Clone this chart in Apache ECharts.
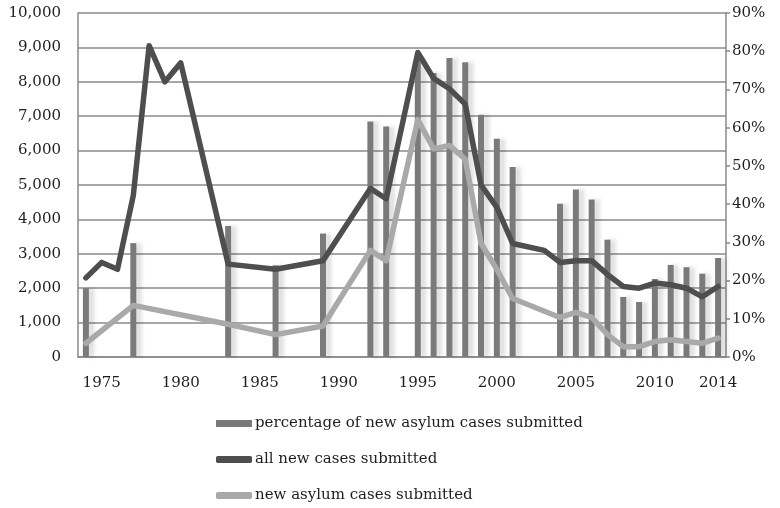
<!DOCTYPE html>
<html>
<head>
<meta charset="utf-8">
<script src="https://cdn.jsdelivr.net/npm/echarts@6/dist/echarts.min.js"></script>
<style>
  html, body { margin: 0; padding: 0; background: #fff; }
  #chart { width: 780px; height: 508px; }
</style>
</head>
<body>
<div id="chart"></div>
<script>
// years 1974 - 2014
const years = [];
for (let y = 1974; y <= 2014; y++) years.push(String(y));

// percentage of new asylum cases submitted (right axis, %)
const pctAsylum = [
  18.0, null, null, 29.8, null, null, null, null, null, 34.3,
  null, null, 24.0, null, null, 32.3, null, null, 61.6, 60.3,
  null, 78.0, 74.3, 78.2, 77.1, 63.4, 57.1, 49.7, null, null,
  40.1, 43.8, 41.2, 30.7, 15.7, 14.4, 20.4, 24.1, 23.5, 21.8,
  25.9
];

// all new cases submitted (left axis)
const allCases = [
  2300, 2750, 2550, 4700, 9050, 8000, 8550, null, null, 2700,
  null, null, 2550, null, null, 2800, null, null, 4900, 4600,
  null, 8850, 8100, 7800, 7350, 5000, 4350, 3300, null, 3100,
  2750, 2800, 2800, 2400, 2050, 2000, 2150, 2100, 2000, 1750,
  2050
];

// new asylum cases submitted (left axis)
const asylumCases = [
  400, null, null, 1500, null, null, null, null, null, 950,
  null, null, 650, null, null, 900, null, null, 3100, 2800,
  null, 6900, 6050, 6150, 5750, 3300, 2550, 1700, null, null,
  1150, 1300, 1150, 650, 300, 300, 450, 500, 450, 400,
  550
];

const names = [
  'percentage of new asylum cases submitted',
  'all new cases submitted',
  'new asylum cases submitted'
];

const font = 'DejaVu Serif';
const txt = '#1e1e1e';

const chart = echarts.init(document.getElementById('chart'));

const option = {
  animation: false,
  backgroundColor: '#fff',
  grid: { left: 78, right: 54, top: 13, bottom: 151 },
  legend: {
    orient: 'vertical',
    left: 211,
    top: 411,
    itemGap: 21,
    itemWidth: 36,
    itemHeight: 7,
    textStyle: { fontFamily: font, fontSize: 15, color: txt, padding: [0, 0, 0, -2] },
    data: [
      { name: names[0], icon: 'rect' },
      { name: names[1], icon: 'roundRect' },
      { name: names[2], icon: 'roundRect' }
    ]
  },
  xAxis: {
    type: 'category',
    data: years,
    boundaryGap: true,
    axisLine: { lineStyle: { color: '#8a8a8a', width: 1.5 } },
    axisTick: { show: false },
    axisLabel: {
      interval: (i, v) => Number(v) % 5 === 0 || v === '2014',
      fontFamily: font,
      fontSize: 15,
      color: txt,
      margin: 19
    }
  },
  yAxis: [
    {
      type: 'value',
      min: 0,
      max: 10000,
      interval: 1000,
      axisLine: { show: true, lineStyle: { color: '#8a8a8a', width: 1.5 } },
      axisTick: { show: false },
      splitLine: { lineStyle: { color: '#8a8a8a', width: 1.5 } },
      axisLabel: {
        fontFamily: font,
        fontSize: 15,
        color: txt,
        margin: 17,
        formatter: v => v.toLocaleString('en-US')
      }
    },
    {
      type: 'value',
      min: 0,
      max: 90,
      interval: 10,
      axisLine: { show: true, lineStyle: { color: '#8a8a8a', width: 1.5 } },
      axisTick: { show: true, inside: false, length: 4, lineStyle: { color: '#8a8a8a', width: 1.5 } },
      splitLine: { show: false },
      axisLabel: {
        fontFamily: font,
        fontSize: 15,
        color: txt,
        margin: 6,
        formatter: '{value}%'
      }
    }
  ],
  series: [
    {
      name: names[0],
      type: 'bar',
      yAxisIndex: 1,
      data: pctAsylum,
      barWidth: 6,
      itemStyle: {
        color: '#7a7a7a',
        shadowColor: 'rgba(0,0,0,0.14)',
        shadowBlur: 4,
        shadowOffsetX: 5
      }
    },
    {
      name: names[1],
      type: 'line',
      yAxisIndex: 0,
      data: allCases,
      connectNulls: true,
      showSymbol: false,
      itemStyle: { color: '#4e4e4e' },
      lineStyle: { color: '#4e4e4e', width: 5.5, cap: 'round', join: 'round' }
    },
    {
      name: names[2],
      type: 'line',
      yAxisIndex: 0,
      data: asylumCases,
      connectNulls: true,
      showSymbol: false,
      itemStyle: { color: '#a9a9a9' },
      lineStyle: { color: '#a9a9a9', width: 5.5, cap: 'round', join: 'round' }
    }
  ]
};

chart.setOption(option);
</script>
</body>
</html>
